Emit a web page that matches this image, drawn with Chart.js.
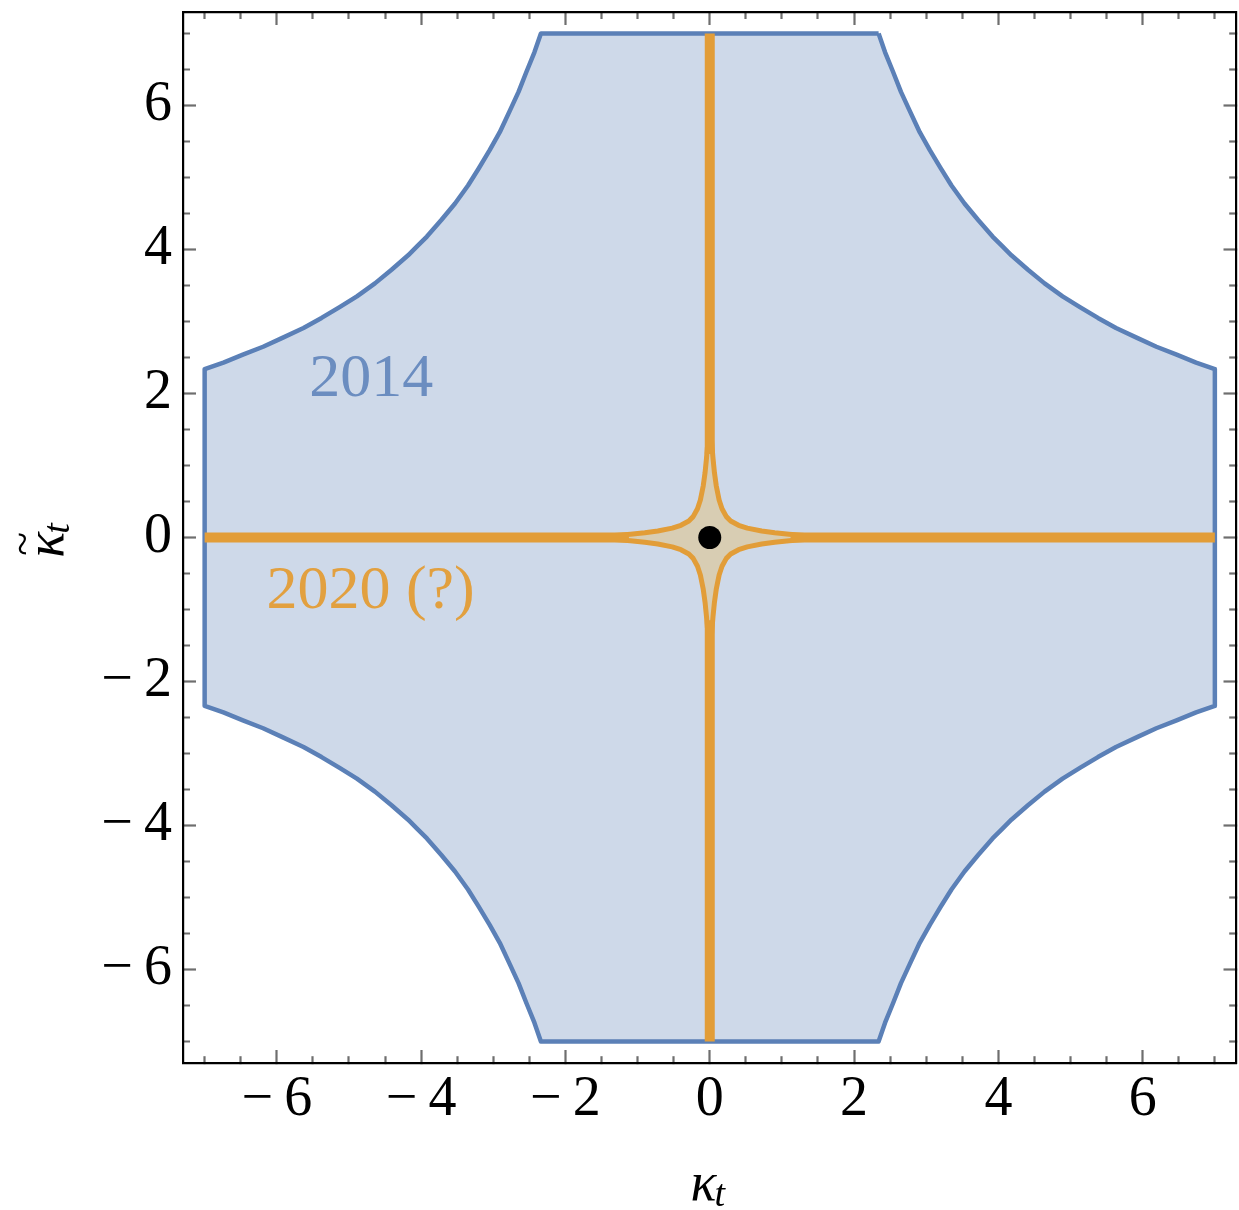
<!DOCTYPE html>
<html>
<head>
<meta charset="utf-8">
<script src="https://cdn.jsdelivr.net/npm/chart.js@4.4.1/dist/chart.umd.min.js"></script>
<style>
  html, body { margin: 0; padding: 0; background: #fff; }
</style>
</head>
<body>
<canvas id="kappaChart" width="1239" height="1210"></canvas>
<script>
// axis range and tick positions (same on both axes)
const axisMin = -7.3;
const axisMax = 7.3;
const majorTicks = [-6, -4, -2, 0, 2, 4, 6];
const minorTicks = [-7, -6.5, -5.5, -5, -4.5, -3.5, -3, -2.5, -1.5, -1, -0.5,
                    0.5, 1, 1.5, 2.5, 3, 3.5, 4.5, 5, 5.5, 6.5, 7];

// 2014 allowed region, upper-right boundary arc [kappa_t, kappaTilde_t];
// the other three corners are mirror images
const region2014 = [
  [2.34, 7.0], [2.43, 6.74], [2.54, 6.47], [2.65, 6.19], [2.77, 5.93],
  [2.91, 5.63], [3.05, 5.38], [3.20, 5.13], [3.35, 4.89], [3.53, 4.64],
  [3.72, 4.41], [3.92, 4.18], [4.05, 4.05], [4.18, 3.92], [4.41, 3.72],
  [4.64, 3.53], [4.89, 3.35], [5.13, 3.20], [5.38, 3.05], [5.63, 2.91],
  [5.93, 2.77], [6.19, 2.65], [6.47, 2.54], [6.74, 2.43], [7.0, 2.34]
];

// 2020 projection: star around the SM point, first-quadrant outline
const star2020 = [
  [0.0, 1.7], [0.02, 1.4], [0.045, 1.1], [0.065, 0.9], [0.09, 0.72],
  [0.13, 0.52], [0.17, 0.40], [0.23, 0.29], [0.29, 0.23], [0.40, 0.17],
  [0.52, 0.13], [0.72, 0.09], [0.9, 0.065], [1.1, 0.045], [1.4, 0.02], [1.7, 0.0]
];
// narrow arms of the 2020 region along the axes
const armsHorizontal = [[-7.0, -1.12], [1.12, 7.0]];
const armsVertical = [[-7.0, -1.15], [1.16, 7.0]];

// Standard Model point
const smPoint = [[0, 0]];

const notes = [
  { text: '2014', x: -4.69, y: 2.19, color: '#6b8dc0' },
  { text: '2020 (?)', x: -4.7, y: -0.76, color: '#e2a03f' }
];

const blue = '#5b80b7';
const orange = '#e29d38';
const serif = '"Liberation Serif", "Times New Roman", Times, serif';

// walk one quadrant round all four corners to close the outline
function fourfold(q) {
  const pts = [];
  q.forEach(([x, y]) => pts.push({ x, y }));
  q.slice().reverse().forEach(([x, y]) => pts.push({ x, y: -y }));
  q.forEach(([x, y]) => pts.push({ x: -x, y: -y }));
  q.slice().reverse().forEach(([x, y]) => pts.push({ x: -x, y }));
  pts.push({ ...pts[0] });
  return pts;
}

const armSets = [
  ...armsHorizontal.map(([a, b]) => [{ x: a, y: 0 }, { x: b, y: 0 }]),
  ...armsVertical.map(([a, b]) => [{ x: 0, y: a }, { x: 0, y: b }])
].map(data => ({
  data, showLine: true, borderColor: orange, borderWidth: 10,
  borderCapStyle: 'butt', pointRadius: 0, fill: false, order: 2
}));

const tickValues = [...majorTicks, ...minorTicks].sort((a, b) => a - b);
const fmt = v => (v < 0 ? '\u2212\u2009' + Math.abs(v) : String(v));

function makeAxis(position, showLabels) {
  const horizontal = position === 'bottom' || position === 'top';
  // ticks point inwards; minor ones keep only the part next to the frame
  const minorDash = (position === 'left' || position === 'top') ? [0, 6, 40] : [8, 40];
  return {
    type: 'linear',
    position,
    min: axisMin,
    max: axisMax,
    afterBuildTicks: s => { s.ticks = tickValues.map(v => ({ value: v })); },
    afterFit: s => {
      if (horizontal) s.height = showLabels ? 147 : 0;
      else s.width = showLabels ? 183 : 0;
      // labels never reach the ends, so no extra room is needed
      s.paddingTop = s.paddingBottom = s.paddingLeft = s.paddingRight = 0;
    },
    border: { display: true, color: '#000', width: 2.2 },
    grid: {
      drawOnChartArea: false,
      drawTicks: true,
      tickLength: -13,
      color: '#6e6e6e',
      tickWidth: 2.2,
      tickBorderDash: c => (majorTicks.includes(c.tick.value) ? [] : minorDash)
    },
    ticks: {
      display: showLabels,
      autoSkip: false,
      maxRotation: 0,
      padding: horizontal ? 17 : 24,
      color: '#000',
      font: { family: serif, size: 56 },
      callback: v => (majorTicks.includes(v) ? fmt(v) : '')
    }
  };
}

// text labels placed in data coordinates
const annotate = {
  id: 'annotate',
  afterDatasetsDraw(chart) {
    const { ctx, scales: { x, y } } = chart;
    ctx.save();
    ctx.font = '62px ' + serif;
    ctx.textAlign = 'center';
    ctx.textBaseline = 'middle';
    notes.forEach(n => {
      ctx.fillStyle = n.color;
      ctx.fillText(n.text, x.getPixelForValue(n.x), y.getPixelForValue(n.y));
    });
    ctx.restore();
  }
};

// axis titles with subscripts
const axisTitles = {
  id: 'axisTitles',
  afterDraw(chart) {
    const { ctx, chartArea } = chart;
    const big = 'italic 54px ' + serif;
    const small = 'italic 38px ' + serif;
    const drawKappa = (tilde) => {
      ctx.font = big;
      const wk = ctx.measureText('\u03ba').width;
      ctx.font = small;
      const wt = ctx.measureText('t').width;
      const total = wk + wt - 2;
      const x0 = -total / 2;
      ctx.font = big;
      ctx.fillText('\u03ba', x0, 0);
      if (tilde) {
        ctx.font = '44px ' + serif;
        ctx.textAlign = 'center';
        ctx.fillText('~', x0 + wk / 2 + 1, -26);
        ctx.textAlign = 'left';
      }
      ctx.font = small;
      ctx.fillText('t', x0 + wk - 2, 6);
    };
    ctx.save();
    ctx.fillStyle = '#000';
    ctx.textAlign = 'left';
    ctx.textBaseline = 'alphabetic';
    ctx.translate((chartArea.left + chartArea.right) / 2 - 2, 1200);
    drawKappa(false);
    ctx.restore();

    ctx.save();
    ctx.fillStyle = '#000';
    ctx.textAlign = 'left';
    ctx.textBaseline = 'alphabetic';
    ctx.translate(63, (chartArea.top + chartArea.bottom) / 2 + 3);
    ctx.rotate(-Math.PI / 2);
    drawKappa(true);
    ctx.restore();
  }
};

new Chart(document.getElementById('kappaChart'), {
  type: 'scatter',
  data: {
    datasets: [
      {
        data: smPoint.map(([x, y]) => ({ x, y })),
        pointRadius: 11.5, pointBackgroundColor: '#000', pointBorderWidth: 0,
        showLine: false, order: 1
      },
      ...armSets,
      {
        data: fourfold(star2020),
        showLine: true, fill: 'shape', backgroundColor: '#d8cdb3',
        borderColor: orange, borderWidth: 5, borderJoinStyle: 'round',
        pointRadius: 0, order: 3
      },
      {
        data: fourfold(region2014),
        showLine: true, fill: 'shape', backgroundColor: 'rgba(94,129,181,0.3)',
        borderColor: blue, borderWidth: 4.5, borderJoinStyle: 'round',
        pointRadius: 0, order: 4
      }
    ]
  },
  options: {
    responsive: false,
    animation: false,
    layout: { autoPadding: false, padding: { top: 12, right: 2.5, left: 0, bottom: 0 } },
    plugins: { legend: { display: false }, tooltip: { enabled: false } },
    scales: {
      x: makeAxis('bottom', true),
      y: makeAxis('left', true),
      xTop: makeAxis('top', false),
      yRight: makeAxis('right', false)
    }
  },
  plugins: [annotate, axisTitles]
});
</script>
</body>
</html>
